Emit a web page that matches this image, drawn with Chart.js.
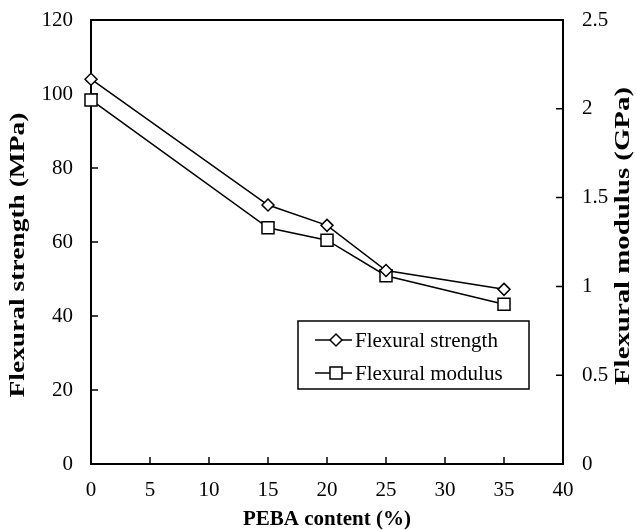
<!DOCTYPE html>
<html lang="en">
<head>
<meta charset="UTF-8">
<title>Flexural properties vs PEBA content</title>
<script src="https://cdn.jsdelivr.net/npm/chart.js"></script>
<style>
    body { margin: 0; background: #fff; }
    #wrap { width: 636px; height: 530px; }
</style>
</head>
<body>
<div id="wrap"><canvas id="flexChart"></canvas></div>
<script>
    const pebaContent = [0, 15, 20, 25, 35];
    const flexStrength = [104, 70, 64.5, 52.3, 47.2];   // MPa
    const flexModulus = [2.05, 1.33, 1.26, 1.06, 0.90]; // GPa
    const seriesNames = ['Flexural strength', 'Flexural modulus'];
    const xTitle = 'PEBA content (%)';
    const yLeftTitle = 'Flexural strength (MPa)';
    const yRightTitle = 'Flexural modulus (GPa)';

    const serif = "'Liberation Serif', 'Times New Roman', serif";
    const tickFont = { family: serif, size: 21 };
    const titleFont = { family: serif, size: 21, weight: 'bold' };

    function toPoints(xs, ys) {
        return xs.map((x, i) => ({ x: x, y: ys[i] }));
    }

    // box round the plot and inward tick marks
    const framePlugin = {
        id: 'frame',
        beforeDatasetsDraw(chart) {
            const { ctx, chartArea: a, scales } = chart;
            const len = 7;
            ctx.save();
            ctx.strokeStyle = '#000';
            ctx.lineWidth = 2;
            ctx.strokeRect(a.left, a.top, a.right - a.left, a.bottom - a.top);
            ctx.lineWidth = 1.5;
            ctx.beginPath();
            scales.x.ticks.forEach(t => {
                if (t.value <= scales.x.min || t.value >= scales.x.max) return;
                const px = scales.x.getPixelForValue(t.value);
                ctx.moveTo(px, a.bottom);
                ctx.lineTo(px, a.bottom - len);
            });
            scales.y.ticks.forEach(t => {
                if (t.value <= scales.y.min || t.value >= scales.y.max) return;
                const py = scales.y.getPixelForValue(t.value);
                ctx.moveTo(a.left, py);
                ctx.lineTo(a.left + len, py);
            });
            scales.y1.ticks.forEach(t => {
                if (t.value <= scales.y1.min || t.value >= scales.y1.max) return;
                const py = scales.y1.getPixelForValue(t.value);
                ctx.moveTo(a.right, py);
                ctx.lineTo(a.right - len, py);
            });
            ctx.stroke();
            ctx.restore();
        }
    };

    // the vertical titles are drawn stretched along their length, as in the original figure
    const sideTitles = {
        id: 'sideTitles',
        afterDraw(chart) {
            const { ctx, chartArea: a } = chart;
            const mid = (a.top + a.bottom) / 2;
            const items = [
                { text: yLeftTitle, x: 19, y: mid + 13, len: 285 },
                { text: yRightTitle, x: chart.width - 12, y: mid - 6, len: 298 }
            ];
            ctx.save();
            ctx.fillStyle = '#000';
            ctx.font = 'bold 21px ' + serif;
            ctx.textAlign = 'center';
            ctx.textBaseline = 'middle';
            items.forEach(it => {
                const w = ctx.measureText(it.text).width;
                ctx.save();
                ctx.translate(it.x, it.y);
                ctx.rotate(-Math.PI / 2);
                ctx.scale(it.len / w, 1);
                ctx.fillText(it.text, 0, 0);
                ctx.restore();
            });
            ctx.restore();
        }
    };

    function drawMarker(ctx, style, x, y, r) {
        ctx.beginPath();
        if (style === 'rectRot') {
            ctx.moveTo(x - r, y);
            ctx.lineTo(x, y - r);
            ctx.lineTo(x + r, y);
            ctx.lineTo(x, y + r);
            ctx.closePath();
        } else {
            const s = Math.SQRT1_2 * r;
            ctx.rect(x - s, y - s, 2 * s, 2 * s);
        }
        ctx.fill();
        ctx.stroke();
    }

    // legend box inside the plot, lower right
    const boxLegend = {
        id: 'boxLegend',
        afterDraw(chart) {
            const ctx = chart.ctx;
            const box = { x: 298, y: 321, w: 231, h: 68 };
            ctx.save();
            ctx.fillStyle = '#fff';
            ctx.strokeStyle = '#000';
            ctx.lineWidth = 1.5;
            ctx.fillRect(box.x, box.y, box.w, box.h);
            ctx.strokeRect(box.x, box.y, box.w, box.h);
            chart.data.datasets.forEach((ds, i) => {
                const cy = box.y + 19 + i * 33;
                ctx.strokeStyle = ds.borderColor;
                ctx.lineWidth = ds.borderWidth;
                ctx.beginPath();
                ctx.moveTo(box.x + 17, cy);
                ctx.lineTo(box.x + 54, cy);
                ctx.stroke();
                ctx.fillStyle = ds.pointBackgroundColor;
                ctx.lineWidth = ds.pointBorderWidth;
                drawMarker(ctx, ds.pointStyle, box.x + 38, cy, ds.pointRadius);
                ctx.fillStyle = '#000';
                ctx.font = '21px ' + serif;
                ctx.textBaseline = 'middle';
                ctx.fillText(ds.label, box.x + 57, cy + 1);
            });
            ctx.restore();
        }
    };

    function fixSide(width) {
        return function (s) {
            s.width = width;
            s.paddingTop = 0;
            s.paddingBottom = 0;
        };
    }

    const ctx = document.getElementById('flexChart').getContext('2d');
    new Chart(ctx, {
        type: 'line',
        data: {
            datasets: [{
                label: seriesNames[0],
                data: toPoints(pebaContent, flexStrength),
                yAxisID: 'y',
                borderColor: '#000',
                borderWidth: 1.5,
                pointStyle: 'rectRot',
                pointRadius: 6,
                pointBackgroundColor: '#fff',
                pointBorderColor: '#000',
                pointBorderWidth: 1.5,
                tension: 0,
                clip: false
            }, {
                label: seriesNames[1],
                data: toPoints(pebaContent, flexModulus),
                yAxisID: 'y1',
                borderColor: '#000',
                borderWidth: 1.5,
                pointStyle: 'rect',
                pointRadius: 8.5,
                pointBackgroundColor: '#fff',
                pointBorderColor: '#000',
                pointBorderWidth: 1.5,
                tension: 0,
                clip: false
            }]
        },
        options: {
            responsive: true,
            maintainAspectRatio: false,
            animation: false,
            layout: { padding: { top: 20 } },
            plugins: {
                legend: { display: false },
                tooltip: { enabled: false }
            },
            scales: {
                x: {
                    type: 'linear',
                    min: 0,
                    max: 40,
                    ticks: { stepSize: 5, padding: 14, font: tickFont, color: '#000', maxRotation: 0 },
                    grid: { display: false, drawTicks: false },
                    border: { display: false },
                    title: { display: true, text: xTitle, font: titleFont, color: '#000', padding: { top: 0, bottom: -2 } },
                    afterFit(s) { s.height = 66; s.paddingLeft = 0; s.paddingRight = 0; }
                },
                y: {
                    position: 'left',
                    min: 0,
                    max: 120,
                    ticks: { stepSize: 20, padding: 18, font: tickFont, color: '#000' },
                    grid: { display: false, drawTicks: false },
                    border: { display: false },
                    afterFit: fixSide(91)
                },
                y1: {
                    position: 'right',
                    min: 0,
                    max: 2.5,
                    ticks: { stepSize: 0.5, padding: 19, font: tickFont, color: '#000', callback: v => String(v) },
                    grid: { display: false, drawTicks: false },
                    border: { display: false },
                    afterFit: fixSide(73)
                }
            }
        },
        plugins: [framePlugin, sideTitles, boxLegend]
    });
</script>
</body>
</html>
